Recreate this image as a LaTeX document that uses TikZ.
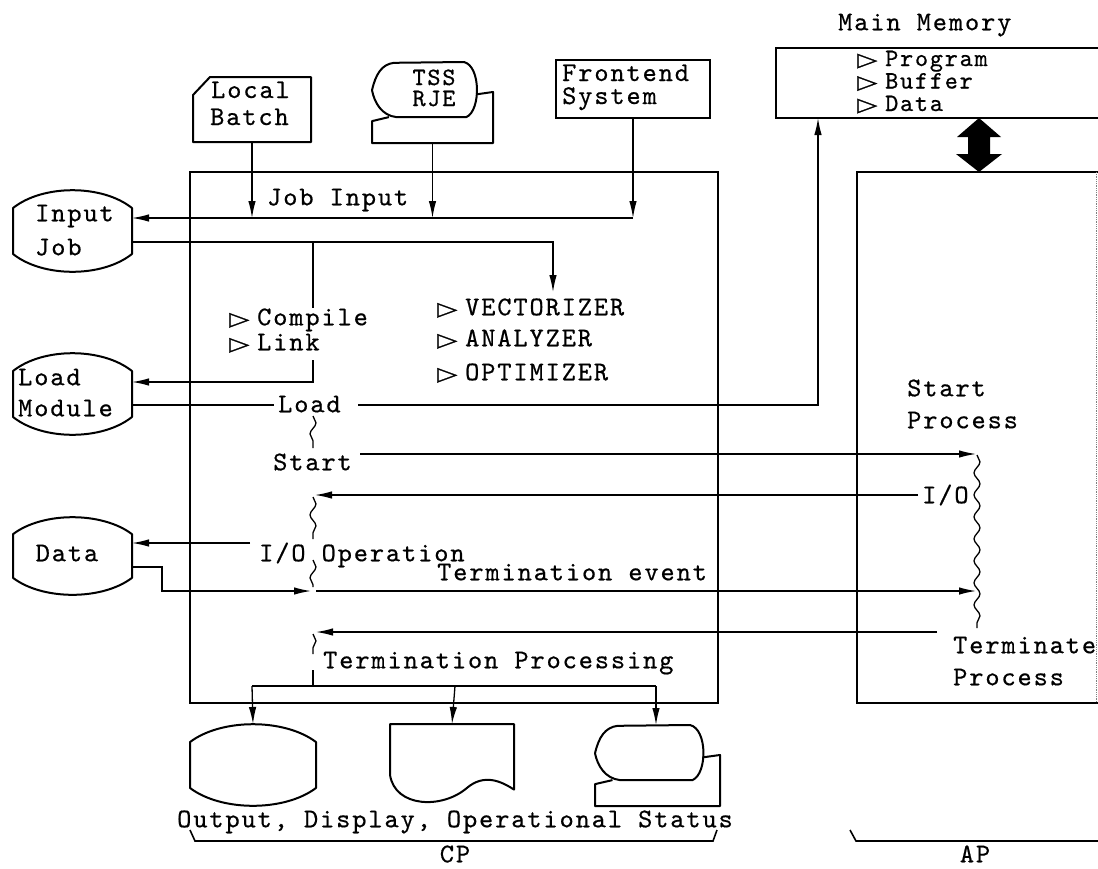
\documentclass[tikz,border=0pt]{standalone}
\usepackage{fontspec}
\newfontfamily\mono{lmmono10-regular.otf}[LetterSpace=7.1,FakeBold=0.6]
\newfontfamily\sym{DejaVu Sans}[FakeBold=1.5]
\usetikzlibrary{arrows.meta,decorations.pathmorphing}
\tikzset{
 ln/.style={line width=1.3pt},
 arr/.style={ln,-{Latex[length=17pt,width=7.5pt]}},
 shp/.style={line width=2pt, line join=round},
 bx/.style={draw, line width=2.4pt, inner sep=0pt, outer sep=0pt},
 ghost/.style={draw=none, inner sep=0pt, outer sep=0pt},
 txt/.style={font=\mono\fontsize{27}{27}\selectfont, inner sep=0pt, text height=16.5pt, text depth=0pt, anchor=west},
 ctxt/.style={txt, anchor=center},
 tt/.style={txt, text height=12pt, anchor=base west},
 st/.style={txt, font=\mono\fontsize{25}{25}\selectfont, text height=11pt, anchor=base west},
 cst/.style={st, anchor=base},
 wav/.style={ln, decorate, decoration={snake, amplitude=3pt, segment length=22pt}},
}
\newcommand\bul{\scalebox{1.3}[0.95]{\sym\fontsize{20}{20}\selectfont ▷}\hspace{8pt}}
\newcommand\storsym[5]{%
  \node[ghost, minimum width={(#4-#2)*1pt}, minimum height={(#5-#3)*1pt}] (#1) at ({(#2+#4)/2},{(#3+#5)/2}) {};
  \draw[shp] (#2,{#3+0.22*(#5-#3)}) .. controls ({#2+0.25*(#4-#2)},{#3-0.07*(#5-#3)}) and ({#4-0.25*(#4-#2)},{#3-0.07*(#5-#3)}) .. (#4,{#3+0.22*(#5-#3)}) -- (#4,{#5-0.22*(#5-#3)}) .. controls ({#4-0.25*(#4-#2)},{#5+0.07*(#5-#3)}) and ({#2+0.25*(#4-#2)},{#5+0.07*(#5-#3)}) .. (#2,{#5-0.22*(#5-#3)}) -- cycle;
}
\newcommand\termsym[5]{%
  \node[ghost, minimum width={(#4-#2)*1pt}, minimum height={(#5-#3)*1pt}] (#1) at ({(#2+#4)/2},{(#3+#5)/2}) {};
  \draw[shp] (#2,{#3+0.35*(#5-#3)}) .. controls ({#2+0.03*(#4-#2)},{#3+0.15*(#5-#3)}) and ({#2+0.08*(#4-#2)},{#3+0.03*(#5-#3)}) .. ({#2+0.18*(#4-#2)},{#3+0.01*(#5-#3)}) -- ({#2+0.76*(#4-#2)},#3) .. controls ({#2+0.9*(#4-#2)},{#3+0.05*(#5-#3)}) and ({#2+0.9*(#4-#2)},{#3+0.6*(#5-#3)}) .. ({#2+0.78*(#4-#2)},{#3+0.68*(#5-#3)}) -- ({#2+0.2*(#4-#2)},{#3+0.68*(#5-#3)}) .. controls ({#2+0.08*(#4-#2)},{#3+0.66*(#5-#3)}) and ({#2+0.02*(#4-#2)},{#3+0.5*(#5-#3)}) .. cycle;
  \draw[shp] ({#2+0.14*(#4-#2)},{#3+0.68*(#5-#3)}) -- (#2,{#3+0.73*(#5-#3)}) -- (#2,#5) -- (#4,#5) -- (#4,{#3+0.37*(#5-#3)}) -- ({#2+0.86*(#4-#2)},{#3+0.40*(#5-#3)});
}
\newcommand\docsym[5]{%
  \node[ghost, minimum width={(#4-#2)*1pt}, minimum height={(#5-#3)*1pt}] (#1) at ({(#2+#4)/2},{(#3+#5)/2}) {};
  \draw[shp] (#2,#3) -- (#2,{#3+0.62*(#5-#3)}) .. controls ({#2+0.04*(#4-#2)},{#3+1.02*(#5-#3)}) and ({#2+0.42*(#4-#2)},{#3+1.04*(#5-#3)}) .. ({#2+0.62*(#4-#2)},{#3+0.78*(#5-#3)}) .. controls ({#2+0.76*(#4-#2)},{#3+0.6*(#5-#3)}) and ({#2+0.9*(#4-#2)},{#3+0.7*(#5-#3)}) .. (#4,{#3+0.8*(#5-#3)}) -- (#4,#3) -- cycle;
}
\begin{document}
\begin{tikzpicture}[x=1pt,y=-1pt]
\useasboundingbox (0,0) rectangle (1098,868);
% CP box
\node[bx, minimum width=528pt, minimum height=531pt] (cp) at (454,437.5) {};
% AP box
\node[ghost, minimum width=241pt, minimum height=531pt] (ap) at (977.5,437.5) {};
\draw[line width=2.4pt] (1098,172) -- (857,172) -- (857,703) -- (1098,703);
\draw[gray, densely dotted, line width=0.8pt] (1096,172) -- (1096,703);
% Main memory
\node[ghost, minimum width=322pt, minimum height=70pt] (mm) at (937,83) {};
\draw[line width=2pt] (1098,48) -- (776,48) -- (776,118) -- (1098,118);
\node[txt] (mmt) at (838,22) {Main Memory};
\node[st] (mp) at (857,66) {\bul Program};
\node[st] (mb) at (857,88.5) {\bul Buffer};
\node[st] (md) at (857,111) {\bul Data};
\fill (979,118) -- (1001,137) -- (990,137) -- (990,154) -- (1002,154) -- (979,172) -- (956,154) -- (968,154) -- (968,137) -- (957,137) -- cycle;
% top inputs
\node[ghost, minimum width=118pt, minimum height=65pt] (lb) at (252,109.5) {};
\draw[shp] (193,95) -- (210,77) -- (311,77) -- (311,142) -- (193,142) -- cycle;
\node[tt] (lbt1) at (211,98) {Local};
\node[tt] (lbt2) at (210,125) {Batch};
\termsym{tss}{372}{62}{493}{143}
\node[cst] (tsst1) at (434,85) {TSS};
\node[cst] (tsst2) at (434,106) {RJE};
\node[bx, line width=2pt, minimum width=154pt, minimum height=58pt] (fe) at (633,89) {};
\node[tt] (fet1) at (562,81) {Frontend};
\node[tt] (fet2) at (562,104) {System};
% left storage
\storsym{ij}{13}{190}{132}{272}
\node[txt] (ijt1) at (35,213) {Input};
\node[txt] (ijt2) at (35,247) {Job};
\storsym{lm}{13}{353}{132}{435}
\node[txt] (lmt1) at (18,377) {Load};
\node[txt] (lmt2) at (18,408) {Module};
\storsym{dt}{13}{517}{132}{595}
\node[ctxt] (dtt) at (67,553) {Data};
% texts inside CP
\node[txt] (jobin) at (267,197) {Job Input};
\node[txt] (comp) at (229,317) {\bul Compile};
\node[txt] (link) at (229,342) {\bul Link};
\node[txt] (vec) at (437,307) {\bul VECTORIZER};
\node[txt] (ana) at (437,338) {\bul ANALYZER};
\node[txt] (opt) at (437,372) {\bul OPTIMIZER};
\node[txt] (load) at (278,404) {Load};
\node[txt] (start) at (273,462) {Start};
\node[txt] (ioop) at (259,553) {I/O Operation};
\node[txt] (tev) at (437,572) {Termination event};
\node[txt] (tpr) at (323,660) {Termination Processing};
% texts inside AP
\node[txt] (sp1) at (907,388) {Start};
\node[txt] (sp2) at (907,420) {Process};
\node[txt] (io) at (922,495) {I/O};
\node[txt] (tp1) at (953,645) {Terminate};
\node[txt] (tp2) at (953,677) {Process};
% bottom outputs
\storsym{out}{190}{724}{316}{806}
\docsym{disp}{390}{724}{514}{806}
\termsym{term}{595}{725}{720}{806}
\node[ctxt] (odo) at (455,819) {Output, Display, Operational Status};
\draw[line width=1.6pt] (190,830) -- (195,841) -- (713,841) -- (717,830);
\node[ctxt] (cpl) at (455,854) {CP};
\draw[line width=1.6pt] (850,830) -- (856,841) -- (1098,841);
\node[ctxt] (apl) at (975,854) {AP};
% connectors
\coordinate (jy) at (0,218);
\coordinate (iy) at (0,242);
\draw[arr] (lb.south) -- (lb.south |- jy);
\draw[arr] (tss.south) -- (tss.south |- jy);
\draw[arr] (fe.south) -- (fe.south |- jy);
\draw[arr] (fe.south |- jy) -- (ij.east |- jy);
\draw[arr] (ij.east |- iy) -- (553,242) -- (553,292);
\draw[ln] (313,242) -- (313,308);
\draw[arr] (313,360) -- (313,382) -- (lm.east |- 0,382);
\draw[ln] (lm.east |- 0,405) -- (274,405);
\draw[arr] (358,405) -- (818,405) -- (818,118);
\draw[wav] (313,416) -- (313,448);
\draw[arr] (360,454) -- (976,454);
\draw[wav] (977,455) -- (977,628);
\draw[arr] (918,495) -- (315,495);
\draw[wav] (313,497) -- (313,539);
\draw[wav] (313,560) -- (313,587);
\draw[arr] (250,543) -- (dt.east |- 0,543);
\draw[arr] (dt.east |- 0,567) -- (162,567) -- (162,591) -- (311,591);
\draw[arr] (316,591) -- (976,591);
\draw[arr] (937,632) -- (316,632);
\draw[wav] (313,634) -- (313,654);
\draw[ln] (313,670) -- (313,686);
\draw[ln] (252,686) -- (656,686);
\draw[arr] (252,686) -- (out.north |- 0,724);
\draw[arr] (455,686) -- (disp.north |- 0,724);
\draw[arr] (656,686) -- (656,725);
\end{tikzpicture}
\end{document}
